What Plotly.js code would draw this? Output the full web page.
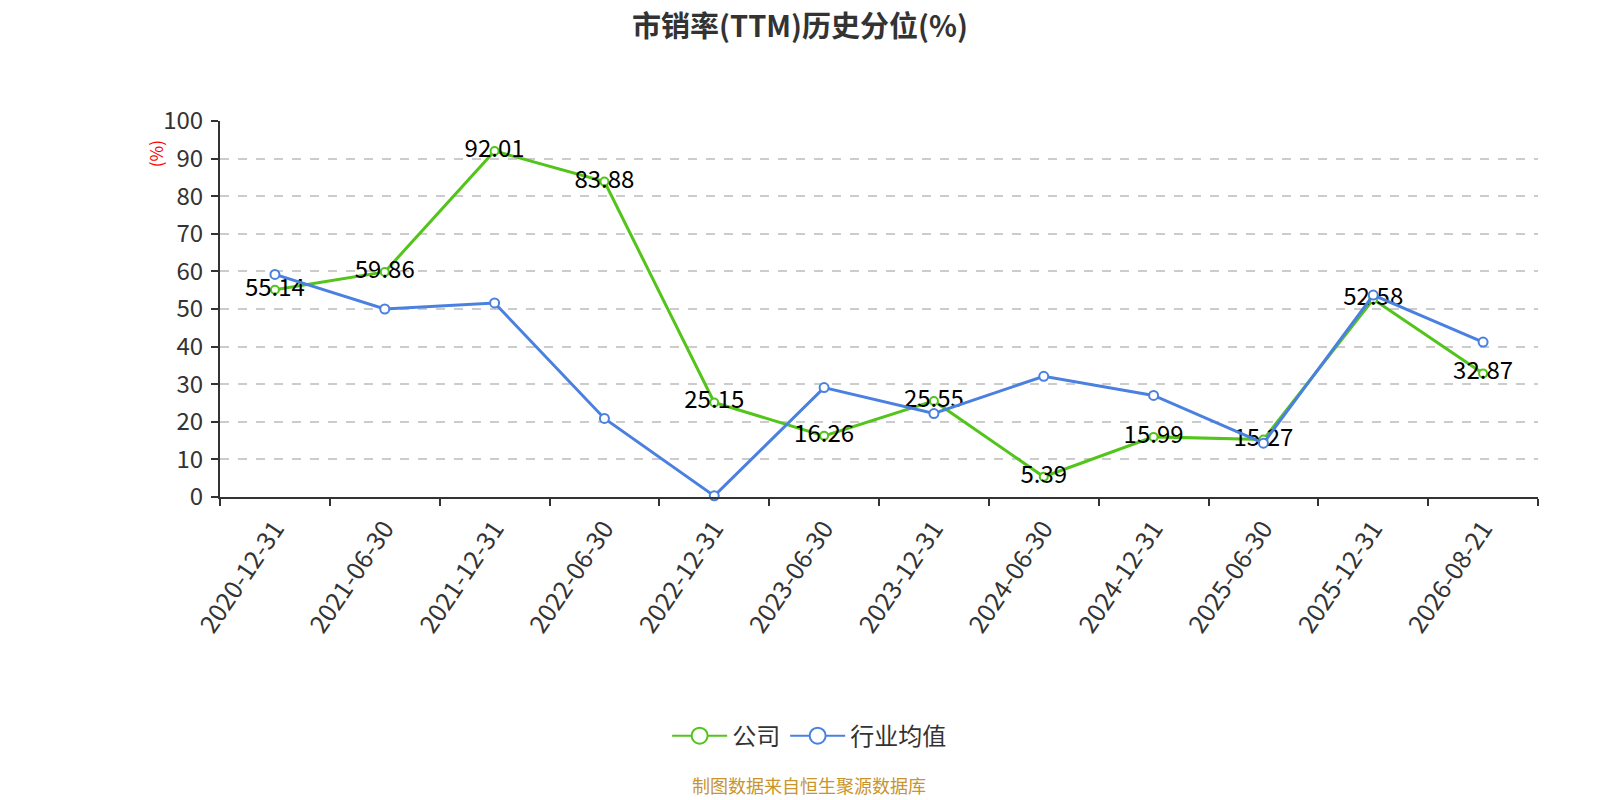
<!DOCTYPE html>
<html>
<head>
<meta charset="utf-8">
<script src="https://cdn.plot.ly/plotly-3.0.1.min.js"></script>
<style>
  body { margin: 0; background: #fff; }
  #chart { width: 1600px; height: 800px; }
</style>
</head>
<body>
<div id="chart"></div>
<script>
var dates = ['2020-12-31', '2021-06-30', '2021-12-31', '2022-06-30', '2022-12-31', '2023-06-30',
             '2023-12-31', '2024-06-30', '2024-12-31', '2025-06-30', '2025-12-31', '2026-08-21'];
var company = [55.14, 59.86, 92.01, 83.88, 25.15, 16.26, 25.55, 5.39, 15.99, 15.27, 52.58, 32.87];
var industry = [59.2, 50.0, 51.6, 20.9, 0.3, 29.1, 22.2, 32.1, 27.0, 14.3, 53.7, 41.2];

var font = '"Noto Sans CJK SC", "Open Sans", sans-serif';
var green = '#52c41a';
var blue = '#4a80e0';

var traces = [{
  x: dates,
  y: company,
  name: '公司',
  type: 'scatter',
  mode: 'lines+markers+text',
  text: company.map(function (v) { return v.toFixed(2); }),
  textposition: 'middle center',
  textfont: { family: font, size: 24, color: '#000' },
  line: { color: green, width: 3 },
  marker: { symbol: 'circle', size: 8, color: '#fff', line: { color: green, width: 2 } },
  showlegend: false,
  cliponaxis: false
}, {
  x: dates,
  y: industry,
  name: '行业均值',
  type: 'scatter',
  mode: 'lines+markers',
  line: { color: blue, width: 3 },
  marker: { symbol: 'circle', size: 9, color: '#fff', line: { color: blue, width: 2 } },
  showlegend: false,
  cliponaxis: false
}, {
  // legend entries with a larger symbol
  x: [null], y: [null], name: '公司', type: 'scatter', mode: 'lines+markers',
  line: { color: green, width: 2 },
  marker: { symbol: 'circle', size: 16, color: '#fff', line: { color: green, width: 2 } }
}, {
  x: [null], y: [null], name: '行业均值', type: 'scatter', mode: 'lines+markers',
  line: { color: blue, width: 2 },
  marker: { symbol: 'circle', size: 16, color: '#fff', line: { color: blue, width: 2 } }
}];

var layout = {
  width: 1600,
  height: 800,
  paper_bgcolor: '#fff',
  plot_bgcolor: '#fff',
  margin: { l: 220, r: 62, t: 121, b: 303 },
  font: { family: font, color: '#333' },
  title: {
    text: '<b>市销率(TTM)历史分位(%)</b>',
    font: { family: font, size: 29, color: '#333' },
    x: 0.5,
    xanchor: 'center',
    y: 0.966,
    yanchor: 'middle'
  },
  showlegend: true,
  legend: {
    orientation: 'h',
    x: 0.447,
    xanchor: 'center',
    y: -0.636,
    yanchor: 'middle',
    font: { family: font, size: 24, color: '#333' },
    itemwidth: 55
  },
  xaxis: {
    type: 'category',
    range: [-0.5, 11.5],
    tickson: 'boundaries',
    ticks: 'outside',
    ticklen: 7,
    tickwidth: 1.5,
    tickcolor: '#333',
    tickangle: -56,
    ticklabelstandoff: 5,
    tickfont: { family: font, size: 25, color: '#333' },
    showline: true,
    linecolor: '#333',
    linewidth: 2,
    showgrid: false,
    zeroline: false
  },
  yaxis: {
    range: [0, 100],
    dtick: 10,
    ticks: 'outside',
    ticklen: 7,
    tickwidth: 1.5,
    tickcolor: '#333',
    ticklabelstandoff: 3,
    tickfont: { family: font, size: 24, color: '#333' },
    showline: true,
    linecolor: '#333',
    linewidth: 2,
    showgrid: true,
    gridcolor: '#cccccc',
    griddash: 'dash',
    gridwidth: 1.5,
    zeroline: false
  },
  annotations: [{
    text: '(%)',
    xref: 'paper', yref: 'paper',
    x: -0.049, y: 0.913,
    xanchor: 'center', yanchor: 'middle',
    textangle: -90,
    showarrow: false,
    font: { family: font, size: 17, color: '#ff0000' }
  }, {
    text: '制图数据来自恒生聚源数据库',
    xref: 'paper', yref: 'paper',
    x: 0.447, y: -0.765,
    xanchor: 'center', yanchor: 'middle',
    showarrow: false,
    font: { family: font, size: 18, color: '#c8952c' }
  }]
};

Plotly.newPlot('chart', traces, layout, { displayModeBar: false });
</script>
</body>
</html>
